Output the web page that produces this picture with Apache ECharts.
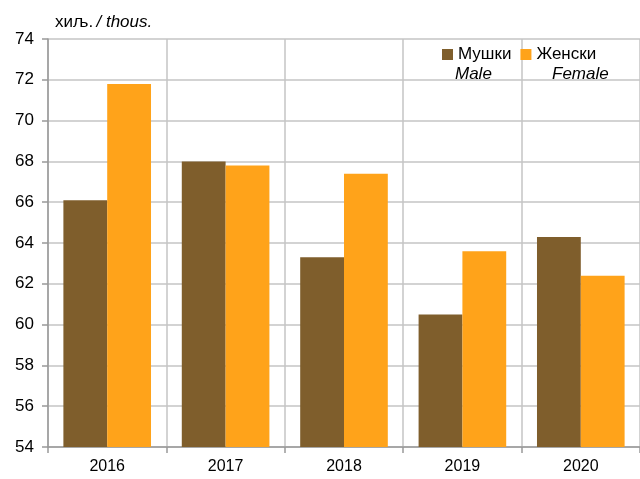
<!DOCTYPE html>
<html>
<head>
<meta charset="utf-8">
<script src="https://cdn.jsdelivr.net/npm/echarts@6/dist/echarts.min.js"></script>
<style>
    html, body { margin: 0; padding: 0; background: #fff; }
    #chart { width: 640px; height: 479px; }
</style>
</head>
<body>
<div id="chart"></div>
<script>
// data
const years = ['2016', '2017', '2018', '2019', '2020'];
const male = [66.1, 68.0, 63.3, 60.5, 64.3];
const female = [71.8, 67.8, 67.4, 63.6, 62.4];
const yMin = 54;
const yMax = 74;
const yStep = 2;

const FONT = '"Liberation Sans Narrow", "Liberation Sans", Arial, sans-serif';
const MALE_COLOR = '#7F5E2C';
const FEMALE_COLOR = '#FFA31A';

const chart = echarts.init(document.getElementById('chart'));

const option = {
    animation: false,
    grid: {
        left: 48,
        right: -3,
        top: 39,
        bottom: 32,
    },
    legend: {
        data: ['Мушки', 'Женски'],
        left: 437,
        top: 41,
        itemWidth: 11,
        itemHeight: 11,
        itemGap: 9,
        icon: 'rect',
        textStyle: {
            fontFamily: FONT,
            fontSize: 17,
            color: '#000',
            width: 70,
        },
    },
    graphic: [
        {
            type: 'text',
            left: 55,
            top: 14,
            style: {
                text: '{a|хиљ.} {b|/ thous.}',
                rich: {
                    a: { fontFamily: FONT, fontSize: 17, fontStyle: 'normal', fill: '#000' },
                    b: { fontFamily: FONT, fontSize: 17, fontStyle: 'italic', fill: '#000' },
                },
            },
        },
        {
            type: 'text',
            left: 455,
            top: 66,
            style: { text: 'Male', fontFamily: FONT, fontSize: 17, fontStyle: 'italic', fill: '#000' },
        },
        {
            type: 'text',
            left: 552,
            top: 66,
            style: { text: 'Female', fontFamily: FONT, fontSize: 17, fontStyle: 'italic', fill: '#000' },
        },
    ],
    xAxis: {
        type: 'category',
        data: years,
        axisLine: { lineStyle: { color: '#999', width: 1.5 } },
        axisTick: { show: true, length: 6, lineStyle: { color: '#999', width: 1.5 } },
        splitLine: { show: true, lineStyle: { color: '#c4c4c4', width: 1.5 } },
        axisLabel: {
            fontFamily: FONT,
            fontSize: 16,
            color: '#000',
            margin: 12,
        },
    },
    yAxis: {
        type: 'value',
        min: yMin,
        max: yMax,
        interval: yStep,
        axisLine: { show: true, lineStyle: { color: '#999', width: 1.5 } },
        axisTick: { show: true, length: 6, lineStyle: { color: '#999', width: 1.5 } },
        splitLine: { show: true, lineStyle: { color: '#c4c4c4', width: 1.5 } },
        axisLabel: {
            fontFamily: FONT,
            fontSize: 17,
            color: '#000',
            margin: 14,
        },
    },
    series: [
        {
            name: 'Мушки',
            type: 'bar',
            data: male,
            barGap: '0%',
            barCategoryGap: '26%',
            itemStyle: { color: MALE_COLOR },
        },
        {
            name: 'Женски',
            type: 'bar',
            data: female,
            itemStyle: { color: FEMALE_COLOR },
        },
    ],
};

chart.setOption(option);
</script>
</body>
</html>
